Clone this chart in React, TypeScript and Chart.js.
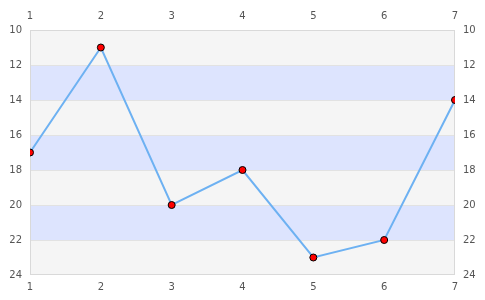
import React, { useEffect, useRef } from "react";
import { Chart, registerables } from "chart.js";

Chart.register(...registerables);

const xValues = [1, 2, 3, 4, 5, 6, 7];
const yValues = [17, 11, 20, 18, 23, 22, 14];
const bandEdges = [10, 12, 14, 16, 18, 20, 22, 24];
const bandColors = ["#f5f5f5", "#dde4fe"];

const bandPlugin = {
  id: "bands",
  beforeDatasetsDraw(chart: any) {
    const { ctx, chartArea, scales } = chart;
    const y = scales.y;
    ctx.save();
    for (let i = 0; i < bandEdges.length - 1; i++) {
      const y0 = y.getPixelForValue(bandEdges[i]);
      const y1 = y.getPixelForValue(bandEdges[i + 1]);
      ctx.fillStyle = bandColors[i % 2];
      ctx.fillRect(chartArea.left, Math.min(y0, y1), chartArea.right - chartArea.left, Math.abs(y1 - y0));
    }
    ctx.strokeStyle = "#e2e2e2";
    ctx.lineWidth = 1;
    for (let i = 1; i < bandEdges.length - 1; i++) {
      const p = Math.round(y.getPixelForValue(bandEdges[i])) + 0.5;
      ctx.beginPath();
      ctx.moveTo(chartArea.left, p);
      ctx.lineTo(chartArea.right, p);
      ctx.stroke();
    }
    ctx.strokeStyle = "#d9d9d9";
    ctx.strokeRect(chartArea.left + 0.5, chartArea.top + 0.5, chartArea.right - chartArea.left - 1, chartArea.bottom - chartArea.top - 1);
    ctx.restore();
  },
};

export default function App() {
  const ref = useRef<HTMLCanvasElement | null>(null);
  useEffect(() => {
    document.body.style.margin = "0";
    const font = { family: "DejaVu Sans", size: 10 };
    const tickColor = "#555555";
    const xAxis = (position: string, padding: number, h: number) => ({
      type: "linear",
      position,
      min: 1,
      max: 7,
      ticks: { stepSize: 1, font, color: tickColor, padding },
      grid: { display: false, drawTicks: false },
      border: { display: false },
      afterFit: (s: any) => { s.height = h; },
    });
    const yAxis = (position: string, w: number) => ({
      type: "linear",
      position,
      reverse: true,
      min: 10,
      max: 24,
      ticks: { stepSize: 2, font, color: tickColor, padding: 8 },
      grid: { display: false, drawTicks: false },
      border: { display: false },
      afterFit: (s: any) => { s.width = w; },
    });
    const chart = new Chart(ref.current as HTMLCanvasElement, {
      type: "line",
      data: {
        datasets: [
          {
            data: xValues.map((x, i) => ({ x, y: yValues[i] })),
            borderColor: "#6db1f2",
            borderWidth: 2,
            pointBackgroundColor: "#ff0000",
            pointBorderColor: "#000000",
            pointBorderWidth: 1,
            pointRadius: 3.5,
            tension: 0,
            xAxisID: "x",
            yAxisID: "y",
          },
        ],
      },
      options: {
        animation: false,
        responsive: false,
        maintainAspectRatio: false,
        layout: { padding: 0 },
        plugins: { legend: { display: false }, tooltip: { enabled: false } },
        scales: {
          x: xAxis("bottom", 6, 25) as any,
          x2: xAxis("top", 8, 30) as any,
          y: yAxis("left", 30) as any,
          y2: yAxis("right", 30) as any,
        },
      },
      plugins: [bandPlugin],
    });
    return () => chart.destroy();
  }, []);
  return (
    <div style={{ width: 485, height: 300 }}>
      <canvas ref={ref} width={485} height={300} style={{ display: "block" }} />
    </div>
  );
}
